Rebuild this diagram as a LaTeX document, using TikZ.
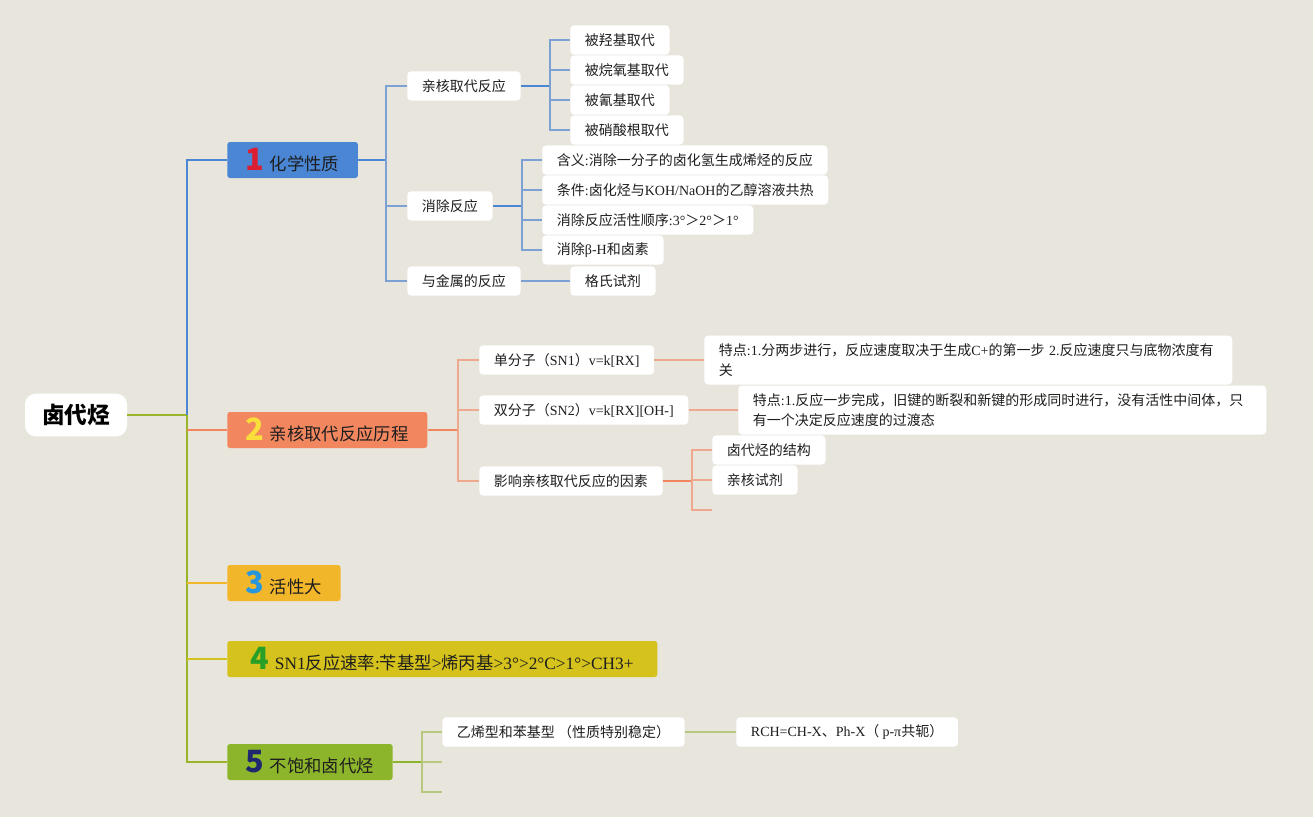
\documentclass[tikz,border=0pt]{standalone}
\usepackage{fontspec}
\setmainfont{Liberation Serif}
\newfontfamily\cjk{Noto Sans CJK SC}
\newfontfamily\latf{Liberation Serif}
\newcommand\la[1]{{\latf #1}}
\newcommand\bnum[2]{\textcolor{#1}{\fontsize{23}{23}\selectfont\bfseries #2}\hspace{4pt}}
\definecolor{bg}{RGB}{232,229,221}
\definecolor{cA}{RGB}{74,134,212}
\definecolor{lA}{RGB}{125,160,212}
\definecolor{cB}{RGB}{242,135,95}
\definecolor{lB}{RGB}{238,168,142}
\definecolor{cC}{RGB}{242,182,43}
\definecolor{cD}{RGB}{213,194,28}
\definecolor{cE}{RGB}{140,181,43}
\definecolor{lE}{RGB}{182,201,126}
\definecolor{olv}{RGB}{155,181,42}
\definecolor{nA}{RGB}{220,30,50}
\definecolor{nB}{RGB}{250,222,60}
\definecolor{nC}{RGB}{40,150,220}
\definecolor{nD}{RGB}{40,160,40}
\definecolor{nE}{RGB}{30,40,110}
\definecolor{txt}{RGB}{30,30,30}
\begin{document}
\begin{tikzpicture}[x=0.75pt,y=-0.75pt,
  leaf/.style={fill=white, rounded corners=3pt, minimum height=22pt, inner xsep=11pt, inner ysep=1pt, anchor=west, text=txt, font=\cjk\fontsize{10.5}{15}\selectfont},
  wide/.style={leaf, text width=#1, align=left, inner ysep=1pt, minimum height=36.75pt},
  title/.style={rounded corners=2pt, minimum height=27pt, inner xsep=14pt, anchor=west, text=txt, font=\cjk\fontsize{13}{16}\selectfont},
  trunk/.style={line width=2.2pt},
  sub/.style={line width=1.6pt},
  twig/.style={line width=1.1pt}
]
\path[fill=bg, use as bounding box] (0,0) rectangle (1313,817);

% root
\node[fill=white, rounded corners=8pt, minimum width=76.5pt, minimum height=32pt, text=black, font=\cjk\fontsize{17}{20}\selectfont\bfseries] (root) at (76,415) {卤代烃};

% branch titles
\node[title, fill=cA] (b1) at (227,160) {\bnum{nA}{1}化学性质};
\node[title, fill=cB] (b2) at (227,430) {\bnum{nB}{2}亲核取代反应历程};
\node[title, fill=cC] (b3) at (227,583) {\bnum{nC}{3}活性大};
\node[title, fill=cD, minimum width=322.5pt] (b4) at (227,659) {\bnum{nD}{4}\la{SN1}反应速率\la{:}苄基型\la{>}烯丙基\la{>3°>2°C>1°>CH3+}};
\node[title, fill=cE] (b5) at (227,762) {\bnum{nE}{5}不饱和卤代烃};

% trunk
\coordinate (t) at (187,415);
\draw[trunk, olv] (root.east) -- (t);
\draw[trunk, cA] (t) |- (b1.west);
\draw[trunk, olv] (t) |- (b5.west);
\draw[trunk, cB] (t |- b2.west) -- (b2.west);
\draw[trunk, cC] (t |- b3.west) -- (b3.west);
\draw[trunk, cD] (t |- b4.west) -- (b4.west);

% branch 1
\node[leaf] (n11) at (407,86) {亲核取代反应};
\node[leaf] (n12) at (407,206) {消除反应};
\node[leaf] (n13) at (407,281) {与金属的反应};
\coordinate (v1) at (386,160);
\draw[sub, cA] (b1.east) -- (v1);
\foreach \n in {n11,n12,n13} \draw[twig, lA] (v1) |- (\n.west);

\node[leaf] (n111) at (570,40) {被羟基取代};
\node[leaf] (n112) at (570,70) {被烷氧基取代};
\node[leaf] (n113) at (570,100) {被氰基取代};
\node[leaf] (n114) at (570,130) {被硝酸根取代};
\coordinate (v11) at (550,86);
\draw[sub, cA] (n11.east) -- (v11);
\foreach \n in {n111,n112,n113,n114} \draw[twig, lA] (v11) |- (\n.west);

\node[leaf] (n121) at (542,160) {含义\la{:}消除一分子的卤化氢生成烯烃的反应};
\node[leaf] (n122) at (542,190) {条件\la{:}卤化烃与\la{KOH/NaOH}的乙醇溶液共热};
\node[leaf] (n123) at (542,220) {消除反应活性顺序\la{:3°}＞\la{2°}＞\la{1°}};
\node[leaf] (n124) at (542,250) {消除\la{β-H}和卤素};
\coordinate (v12) at (522,206);
\draw[sub, cA] (n12.east) -- (v12);
\foreach \n in {n121,n122,n123,n124} \draw[twig, lA] (v12) |- (\n.west);

\node[leaf] (n131) at (570,281) {格氏试剂};
\draw[twig, lA] (n13.east) -- (n131.west);

% branch 2
\node[leaf] (n21) at (479,360) {单分子（\la{SN1}）\la{v=k[RX]}};
\node[leaf] (n22) at (479,410) {双分子（\la{SN2}）\la{v=k[RX][OH-]}};
\node[leaf] (n23) at (479,481) {影响亲核取代反应的因素};
\coordinate (v2) at (458,430);
\draw[sub, cB] (b2.east) -- (v2);
\foreach \n in {n21,n22,n23} \draw[twig, lB] (v2) |- (\n.west);

\node[wide=374pt] (n211) at (704,360) {特点\la{:1.}分两步进行，反应速度取决于生成\la{C+}的第一步 \la{2.}反应速度只与底物浓度有\\关};
\node[wide=374pt] (n221) at (738,410) {特点\la{:1.}反应一步完成，旧键的断裂和新键的形成同时进行，没有活性中间体，只\\有一个决定反应速度的过渡态};
\draw[twig, lB] (n21.east) -- (n211.west);
\draw[twig, lB] (n22.east) -- (n221.west);

\node[leaf] (n231) at (712,450) {卤代烃的结构};
\node[leaf] (n232) at (712,480) {亲核试剂};
\coordinate (e23) at (712,510);
\coordinate (v23) at (692,481);
\draw[sub, cB] (n23.east) -- (v23);
\foreach \n in {n231.west,n232.west,e23} \draw[twig, lB] (v23) |- (\n);

% branch 5
\node[leaf] (n51) at (442,732) {乙烯型和苯基型 （性质特别稳定）};
\coordinate (e51) at (442,762);
\coordinate (e52) at (442,792);
\coordinate (v5) at (422,762);
\draw[sub, cE] (b5.east) -- (v5);
\foreach \n in {n51.west,e51,e52} \draw[twig, lE] (v5) |- (\n);
\node[leaf] (n511) at (736,732) {\la{RCH=CH-X}、\la{Ph-X}（ \la{p-π}共轭）};
\draw[twig, lE] (n51.east) -- (n511.west);
\end{tikzpicture}
\end{document}
